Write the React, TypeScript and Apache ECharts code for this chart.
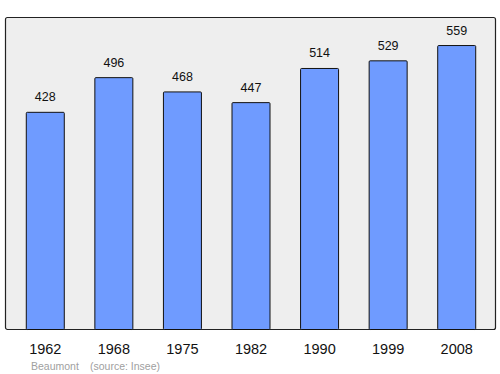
import React, { useEffect, useRef } from "react";
import * as echarts from "echarts";

const years = ["1962", "1968", "1975", "1982", "1990", "1999", "2008"];
const population = [428, 496, 468, 447, 514, 529, 559];
const placeName = "Beaumont";
const sourceText = "(source: Insee)";

export default function App() {
  const ref = useRef<HTMLDivElement>(null);
  useEffect(() => {
    if (!ref.current) return;
    const chart = echarts.init(ref.current, undefined, { renderer: "svg" });
    chart.setOption({
      animation: false,
      grid: { left: 11, right: 9, top: 17, bottom: 44, containLabel: false },
      graphic: [
        {
          type: "rect",
          z: -10,
          shape: { x: 5.5, y: 17.5, width: 490, height: 312, r: 2 },
          style: { fill: "#eeeeee", stroke: "#222222", lineWidth: 1.2 },
          silent: true,
        },
        {
          type: "text",
          x: 31,
          y: 366,
          style: {
            text: placeName,
            fill: "#a0a0a0",
            font: "10.5px 'Liberation Sans', Arial, sans-serif",
            align: "left",
            verticalAlign: "middle",
          },
        },
        {
          type: "text",
          x: 90,
          y: 366,
          style: {
            text: sourceText,
            fill: "#a0a0a0",
            font: "10.5px 'Liberation Sans', Arial, sans-serif",
            align: "left",
            verticalAlign: "middle",
          },
        },
      ],
      xAxis: {
        type: "category",
        data: years,
        axisLine: { show: false },
        axisTick: { show: false },
        axisLabel: {
          color: "#111111",
          fontSize: 14.5,
          fontFamily: "'Liberation Sans', Arial, sans-serif",
          margin: 11,
        },
      },
      yAxis: {
        type: "value",
        min: 0,
        max: 614,
        show: false,
        splitLine: { show: false },
      },
      series: [
        {
          type: "bar",
          data: population,
          barWidth: 39,
          itemStyle: {
            color: "#6f9bff",
            borderColor: "#111111",
            borderWidth: 1,
            borderRadius: 1,
          },
          label: {
            show: true,
            position: "top",
            distance: 8,
            color: "#111111",
            fontSize: 12.5,
            fontFamily: "'Liberation Sans', Arial, sans-serif",
          },
        },
      ],
    });
    return () => chart.dispose();
  }, []);
  return <div ref={ref} style={{ width: 500, height: 374, position: "absolute", left: 0, top: 0 }} />;
}
